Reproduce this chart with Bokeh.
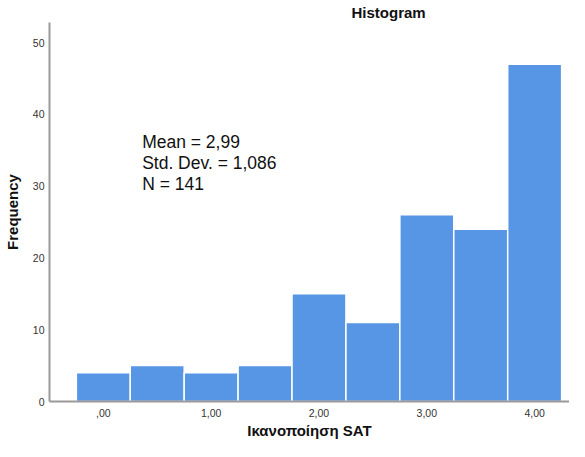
from bokeh.plotting import figure
from bokeh.models import ColumnDataSource, FixedTicker, Range1d
from bokeh.core.properties import value
from bokeh.embed import file_html
from bokeh.resources import INLINE

# Data
bin_centers = [0.0, 0.5, 1.0, 1.5, 2.0, 2.5, 3.0, 3.5, 4.0]
counts = [4, 5, 4, 5, 15, 11, 26, 24, 47]
x_ticks = [0, 1, 2, 3, 4]
x_tick_labels = [",00", "1,00", "2,00", "3,00", "4,00"]
y_ticks = [0, 10, 20, 30, 40, 50]
stats_text = "Mean = 2,99\nStd. Dev. = 1,086\nN = 141"
title_text = "Histogram"
x_title = "Ικανοποίηση SAT"
y_title = "Frequency"

FONT = "Liberation Sans"

source = ColumnDataSource(data=dict(x=bin_centers, top=counts))

p = figure(
    output_backend="svg",
    toolbar_location=None,
    width=569,
    height=441,
    min_border_left=47,
    min_border_right=0,
    min_border_top=21,
    min_border_bottom=40,
    x_range=Range1d(-0.499, 4.323),
    y_range=Range1d(0, 52.8),
    title=title_text,
)
p.title.text_font = FONT
p.title.text_font_size = "15px"
p.title.text_font_style = "bold"
p.title.text_color = "#111111"
p.title.align = "left"
p.title.offset = 302
p.title.standoff = 3

p.outline_line_color = None
p.xgrid.grid_line_color = None
p.ygrid.grid_line_color = None
p.background_fill_color = "white"
p.border_fill_color = "white"

p.vbar(x="x", top="top", bottom=0, width=0.5, source=source,
       fill_color="#5696E5", line_color="white", line_width=1.5)

for ax in (p.xaxis[0], p.yaxis[0]):
    ax.axis_line_color = "#9a9a9a"
    ax.axis_line_width = 2
    ax.major_tick_line_color = None
    ax.minor_tick_line_color = None
    ax.major_tick_out = 0
    ax.major_tick_in = 0
    ax.minor_tick_out = 0
    ax.minor_tick_in = 0
    ax.major_label_text_font = FONT
    ax.major_label_text_font_size = "10.5px"
    ax.major_label_text_color = "#333333"
    ax.axis_label_text_font = FONT
    ax.axis_label_text_font_style = "bold"
    ax.axis_label_text_font_size = "15px"
    ax.axis_label_text_color = "#111111"

p.xaxis.ticker = FixedTicker(ticks=x_ticks)
p.xaxis.major_label_overrides = {t: l for t, l in zip(x_ticks, x_tick_labels)}
p.xaxis.major_label_standoff = 7
p.xaxis.axis_label = x_title
p.xaxis.axis_label_standoff = 2

p.yaxis.ticker = FixedTicker(ticks=y_ticks)
p.yaxis.major_label_standoff = 5
p.yaxis.axis_label = y_title
p.yaxis.axis_label_standoff = 9

p.text(x=[0.36], y=[37.6], text=[stats_text], text_font=value(FONT),
       text_font_size="17.5px", text_color="#111111",
       text_baseline="top", text_align="left", text_line_height=1.07)

open("out.html", "w").write(file_html(p, INLINE))
